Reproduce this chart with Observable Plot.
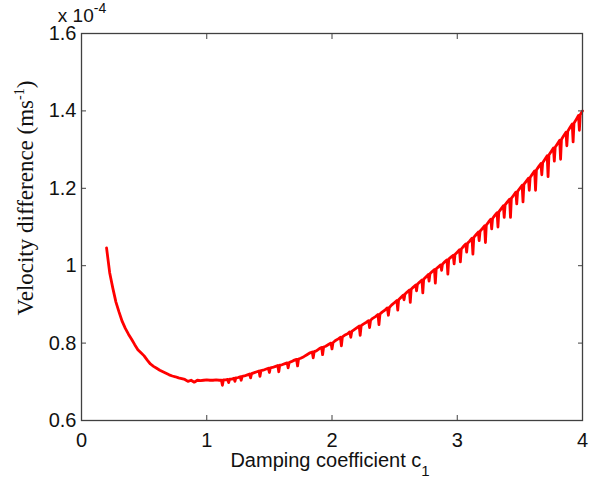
<!DOCTYPE html>
<html><head><meta charset="utf-8">
<script src="https://cdn.jsdelivr.net/npm/d3@7"></script>
<script src="https://cdn.jsdelivr.net/npm/@observablehq/plot@0.6"></script>
<style>body{margin:0;background:#fff}</style>
</head><body><div id="chart"></div>
<script>
const c1 = [
 0.2,0.225,0.25,0.275,0.3,0.325,0.35,0.375,0.4,0.425,0.45,0.475,
 0.5,0.525,0.55,0.575,0.6,0.625,0.65,0.675,0.7,0.725,0.75,0.775,
 0.8,0.825,0.85,0.875,0.9,0.925,0.95,0.975,
 1.0,1.025,1.05,1.075,
 1.1,1.117,1.125,1.133,1.15,1.167,1.175,1.183,1.2,1.217,1.225,1.233,1.25,1.267,1.275,1.283,
 1.3,1.325,1.342,1.35,1.358,1.375,1.4,1.417,1.425,1.433,1.45,1.475,1.492,1.5,1.508,
 1.525,1.55,1.567,1.575,1.583,1.6,1.625,1.642,1.65,1.658,1.675,1.7,1.717,1.725,1.733,
 1.75,1.775,1.8,1.825,1.842,1.85,1.858,1.875,1.9,1.917,1.925,1.933,1.95,1.975,1.992,
 2.0,2.008,2.025,2.05,2.067,2.075,2.083,2.1,2.125,2.142,2.15,2.158,2.175,2.2,2.217,2.225,2.233,
 2.25,2.275,2.292,2.3,2.308,2.325,2.35,2.367,2.375,2.383,2.4,2.425,2.442,2.45,2.458,2.475,
 2.5,2.518,2.525,2.532,2.55,2.568,2.575,2.582,2.6,2.618,2.625,2.632,2.65,2.668,2.675,2.682,
 2.7,2.718,2.725,2.732,2.75,2.768,2.775,2.782,2.8,2.818,2.825,2.832,2.85,2.868,2.875,2.882,
 2.9,2.918,2.925,2.932,2.95,2.968,2.975,2.982,
 3.0,3.018,3.025,3.032,3.05,3.068,3.075,3.082,3.1,3.118,3.125,3.132,3.15,3.168,3.175,3.182,
 3.2,3.218,3.225,3.232,3.25,3.268,3.275,3.282,3.3,3.318,3.325,3.332,3.35,3.368,3.375,3.382,
 3.4,3.418,3.425,3.432,3.45,3.468,3.475,3.482,3.5,3.518,3.525,3.532,3.55,3.568,3.575,3.582,
 3.6,3.618,3.625,3.632,3.65,3.668,3.675,3.682,3.7,3.718,3.725,3.732,3.75,3.768,3.775,3.782,
 3.8,3.818,3.825,3.832,3.85,3.868,3.875,3.882,3.9,3.918,3.925,3.932,3.95,3.968,3.975,3.982,
 4.0
];
const velocityDiff = [
 1.046,0.982,0.942,0.906,0.880,0.856,0.838,0.823,0.810,0.796,0.783,0.775,
 0.767,0.756,0.746,0.740,0.735,0.730,0.726,0.722,0.718,0.715,0.713,0.710,
 0.708,0.706,0.701,0.704,0.699,0.704,0.703,0.704,
 0.705,0.704,0.704,0.705,
 0.704,0.704,0.691,0.705,0.705,0.706,0.698,0.707,0.707,0.709,0.701,0.710,0.711,0.713,0.704,0.714,
 0.715,0.718,0.720,0.710,0.721,0.723,0.726,0.728,0.714,0.729,0.730,0.733,0.735,0.724,0.736,
 0.737,0.740,0.742,0.726,0.743,0.744,0.747,0.749,0.736,0.750,0.752,0.756,0.758,0.741,0.759,
 0.761,0.765,0.770,0.775,0.777,0.762,0.778,0.780,0.786,0.789,0.770,0.790,0.792,0.797,0.800,
 0.785,0.801,0.806,0.811,0.815,0.793,0.816,0.820,0.824,0.829,0.815,0.830,0.834,0.840,0.844,0.820,0.845,
 0.849,0.854,0.858,0.840,0.859,0.864,0.869,0.874,0.848,0.875,0.880,0.886,0.891,0.872,0.892,0.898,
 0.905,0.910,0.885,0.912,0.918,0.924,0.912,0.926,0.932,0.937,0.905,0.939,0.945,0.950,0.935,0.952,
 0.958,0.963,0.930,0.965,0.971,0.977,0.960,0.979,0.985,0.990,0.955,0.992,0.997,1.002,0.988,1.004,
 1.010,1.015,0.978,1.017,1.022,1.027,1.005,1.029,
 1.035,1.041,1.010,1.043,1.050,1.056,1.035,1.058,1.064,1.071,1.030,1.073,1.080,1.087,1.065,1.089,
 1.096,1.103,1.060,1.105,1.113,1.120,1.095,1.122,1.130,1.137,1.100,1.139,1.147,1.155,1.125,1.157,
 1.165,1.172,1.125,1.174,1.182,1.190,1.160,1.192,1.200,1.208,1.165,1.210,1.218,1.226,1.195,1.228,
 1.237,1.245,1.195,1.247,1.256,1.264,1.235,1.266,1.275,1.284,1.230,1.286,1.295,1.304,1.270,1.306,
 1.315,1.324,1.275,1.326,1.336,1.345,1.310,1.347,1.357,1.366,1.320,1.368,1.378,1.388,1.350,1.390,
 1.400
];
const xTicks = [0, 1, 2, 3, 4];
const yTicks = [0.6, 0.8, 1, 1.2, 1.4, 1.6];
const yTickLabels = ["0.6", "0.8", "1", "1.2", "1.4", "1.6"];

const data = c1.map((c, i) => ({c, v: velocityDiff[i]}));
const sans = "'Liberation Sans', Arial, sans-serif";
const serif = "'Liberation Serif', 'Times New Roman', serif";
const axisColor = "#404040";

const svgNode = Plot.plot({
  width: 597, height: 479,
  marginLeft: 81, marginRight: 15, marginTop: 33, marginBottom: 59,
  style: {fontFamily: sans, fontSize: "20px", color: "#000", background: "#fff", overflow: "visible"},
  x: {domain: [0, 4]},
  y: {domain: [0.6, 1.6]},
  marks: [
    Plot.line(data, {x: "c", y: "v", stroke: "#ff0000", strokeWidth: 2.8}),
    Plot.frame({stroke: axisColor, strokeWidth: 1.3}),
    Plot.axisX(xTicks, {anchor: "bottom", tickSize: -5, tickFormat: () => "", stroke: axisColor, label: null}),
    Plot.axisX(xTicks, {anchor: "top", tickSize: -5, tickFormat: () => "", stroke: axisColor, label: null}),
    Plot.axisY(yTicks, {anchor: "left", tickSize: -5, tickFormat: () => "", stroke: axisColor, label: null}),
    Plot.axisY(yTicks, {anchor: "right", tickSize: -5, tickFormat: () => "", stroke: axisColor, label: null}),
    Plot.axisX(xTicks, {anchor: "bottom", tickSize: 0, tickPadding: 12, fontSize: 20, fill: "#111", label: null, tickFormat: d => String(d)}),
    Plot.axisY(yTicks, {anchor: "left", tickSize: 0, tickPadding: 5, fontSize: 20, fill: "#111", label: null,
      tickFormat: d => yTickLabels[yTicks.indexOf(d)]})
  ]
});
document.getElementById("chart").appendChild(svgNode);

const svg = d3.select(svgNode);
// x-axis label
const xl = svg.append("text").attr("x", 330).attr("y", 467).attr("text-anchor", "middle")
  .attr("font-family", sans).attr("font-size", 20).attr("fill", "#111");
xl.append("tspan").text("Damping coefficient c");
xl.append("tspan").attr("dy", 9).attr("font-size", 15).text("1");

// y-axis label
const yl = svg.append("text").attr("transform", "translate(33,198) rotate(-90)").attr("text-anchor", "middle")
  .attr("font-family", serif).attr("font-size", 23).attr("fill", "#111");
yl.append("tspan").text("Velocity difference (ms");
yl.append("tspan").attr("dy", -9).attr("font-size", 14).text("-1");
yl.append("tspan").attr("dy", 9).text(")");

// exponent
const ex = svg.append("text").attr("x", 82).attr("y", 22).attr("font-family", sans).attr("font-size", 19).attr("fill", "#111");
ex.append("tspan").text("x 10");
ex.append("tspan").attr("dy", -9).attr("font-size", 14).text("-4");
</script>
</body></html>
